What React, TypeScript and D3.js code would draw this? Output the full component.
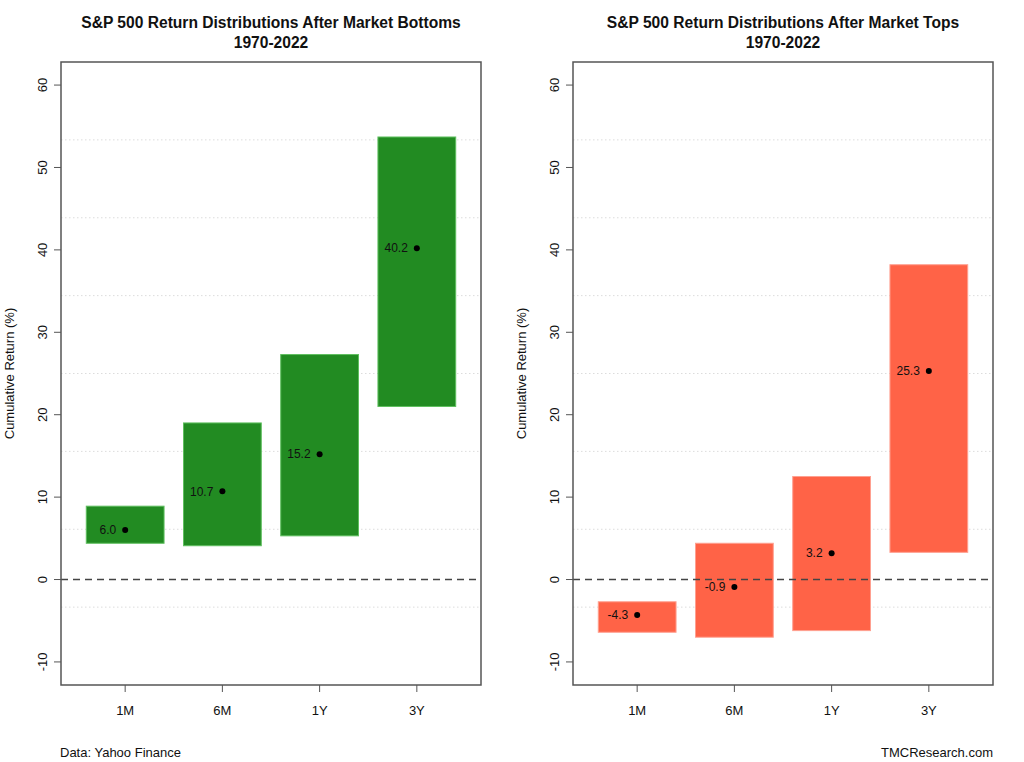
import * as d3 from 'd3';
import { useEffect, useRef } from 'react';

// horizons on the x axis
const horizons = ['1M', '6M', '1Y', '3Y'];

// after market bottoms
const bottomLow = [4.4, 4.1, 5.3, 21.0];
const bottomHigh = [8.9, 19.0, 27.3, 53.7];
const bottomMean = [6.0, 10.7, 15.2, 40.2];

// after market tops
const topLow = [-6.4, -7.0, -6.2, 3.3];
const topHigh = [-2.7, 4.4, 12.5, 38.2];
const topMean = [-4.3, -0.9, 3.2, 25.3];

const yTicks = [-10, 0, 10, 20, 30, 40, 50, 60];

const W = 1024;
const H = 762;

function drawPanel(
  g: d3.Selection<SVGGElement, unknown, null, undefined>,
  opts: {
    left: number;
    title: string;
    low: number[];
    high: number[];
    mean: number[];
    color: string;
    stroke: string;
  }
) {
  const top = 62;
  const bottom = 685;
  const width = 420;
  const left = opts.left;

  // R style: ylim c(-10,60), extended by 4% on both sides
  const yExt = (60 - -10) * 0.04;
  const y = d3.scaleLinear().domain([-10 - yExt, 60 + yExt]).range([bottom, top]);
  const xExt = 4 * 0.04;
  const x = d3.scaleLinear().domain([0.5 - xExt, 4.5 + xExt]).range([left, left + width]);

  const p = g.append('g');

  // grid, ny = 8
  const [d0, d1] = y.domain();
  const gridVals = d3.range(1, 8).map((k) => d0 + ((d1 - d0) * k) / 8);
  p.selectAll('line.grid')
    .data(gridVals)
    .join('line')
    .attr('class', 'grid')
    .attr('x1', left)
    .attr('x2', left + width)
    .attr('y1', (d) => y(d))
    .attr('y2', (d) => y(d))
    .attr('stroke', '#dcdcdc')
    .attr('stroke-width', 1)
    .attr('stroke-dasharray', '1.5,2.5');

  const bw = 0.8;
  p.selectAll('rect.bar')
    .data(horizons)
    .join('rect')
    .attr('class', 'bar')
    .attr('x', (_d, i) => x(i + 1 - bw / 2))
    .attr('width', x(bw) - x(0))
    .attr('y', (_d, i) => y(opts.high[i]))
    .attr('height', (_d, i) => y(opts.low[i]) - y(opts.high[i]))
    .attr('fill', opts.color)
    .attr('stroke', opts.stroke)
    .attr('stroke-width', 1);

  // zero line
  p.append('line')
    .attr('x1', left)
    .attr('x2', left + width)
    .attr('y1', y(0))
    .attr('y2', y(0))
    .attr('stroke', '#444')
    .attr('stroke-width', 1.5)
    .attr('stroke-dasharray', '7,5');

  // mean points
  p.selectAll('circle.mean')
    .data(opts.mean)
    .join('circle')
    .attr('class', 'mean')
    .attr('cx', (_d, i) => x(i + 1))
    .attr('cy', (d) => y(d))
    .attr('r', 3)
    .attr('fill', '#000');

  p.selectAll('text.lab')
    .data(opts.mean)
    .join('text')
    .attr('class', 'lab')
    .attr('x', (_d, i) => x(i + 1) - 9)
    .attr('y', (d) => y(d))
    .attr('dy', '0.35em')
    .attr('text-anchor', 'end')
    .attr('font-size', 12)
    .attr('fill', '#111')
    .text((d) => d.toFixed(1));

  // box
  p.append('rect')
    .attr('x', left)
    .attr('y', top)
    .attr('width', width)
    .attr('height', bottom - top)
    .attr('fill', 'none')
    .attr('stroke', '#555')
    .attr('stroke-width', 1.5);

  // y axis
  p.selectAll('line.ytick')
    .data(yTicks)
    .join('line')
    .attr('class', 'ytick')
    .attr('x1', left - 7)
    .attr('x2', left)
    .attr('y1', (d) => y(d))
    .attr('y2', (d) => y(d))
    .attr('stroke', '#555');
  p.selectAll('text.ytl')
    .data(yTicks)
    .join('text')
    .attr('class', 'ytl')
    .attr('transform', (d) => `translate(${left - 14},${y(d)}) rotate(-90)`)
    .attr('text-anchor', 'middle')
    .attr('font-size', 13)
    .attr('fill', '#111')
    .text((d) => d);

  // x axis
  p.selectAll('line.xtick')
    .data(horizons)
    .join('line')
    .attr('class', 'xtick')
    .attr('x1', (_d, i) => x(i + 1))
    .attr('x2', (_d, i) => x(i + 1))
    .attr('y1', bottom)
    .attr('y2', bottom + 7)
    .attr('stroke', '#555');
  p.selectAll('text.xtl')
    .data(horizons)
    .join('text')
    .attr('class', 'xtl')
    .attr('x', (_d, i) => x(i + 1))
    .attr('y', bottom + 30)
    .attr('text-anchor', 'middle')
    .attr('font-size', 13)
    .attr('fill', '#111')
    .text((d) => d);

  p.append('text')
    .attr('transform', `translate(${left - 47},${(top + bottom) / 2}) rotate(-90)`)
    .attr('text-anchor', 'middle')
    .attr('font-size', 13)
    .attr('fill', '#111')
    .text('Cumulative Return (%)');

  const tt = p
    .append('text')
    .attr('text-anchor', 'middle')
    .attr('font-size', 15.6)
    .attr('font-weight', 'bold')
    .attr('fill', '#111');
  tt.append('tspan').attr('x', left + width / 2).attr('y', 28).text(opts.title);
  tt.append('tspan').attr('x', left + width / 2).attr('y', 48).text('1970-2022');
}

export default function App() {
  const svgRef = useRef<SVGSVGElement>(null);

  useEffect(() => {
    const svgElement = svgRef.current;
    if (!svgElement) return;
    d3.select(svgElement).selectAll('*').remove();

    const svg = d3
      .select(svgElement)
      .attr('width', W)
      .attr('height', H)
      .style('font-family', 'Liberation Sans, Arial, sans-serif');

    svg.append('rect').attr('width', W).attr('height', H).attr('fill', '#fff');
    const g = svg.append('g');

    drawPanel(g, {
      left: 61,
      title: 'S&P 500 Return Distributions After Market Bottoms',
      low: bottomLow,
      high: bottomHigh,
      mean: bottomMean,
      color: '#228B22',
      stroke: '#5fbf5f',
    });
    drawPanel(g, {
      left: 573,
      title: 'S&P 500 Return Distributions After Market Tops',
      low: topLow,
      high: topHigh,
      mean: topMean,
      color: '#FF6347',
      stroke: '#ffa090',
    });

    svg
      .append('text')
      .attr('x', 60)
      .attr('y', 757)
      .attr('font-size', 13)
      .attr('fill', '#111')
      .text('Data: Yahoo Finance');
    svg
      .append('text')
      .attr('x', 993)
      .attr('y', 757)
      .attr('text-anchor', 'end')
      .attr('font-size', 13)
      .attr('fill', '#111')
      .text('TMCResearch.com');
  }, []);

  return (
    <svg
      ref={svgRef}
      style={{ position: 'absolute', left: 0, top: 0, display: 'block' }}
    />
  );
}
